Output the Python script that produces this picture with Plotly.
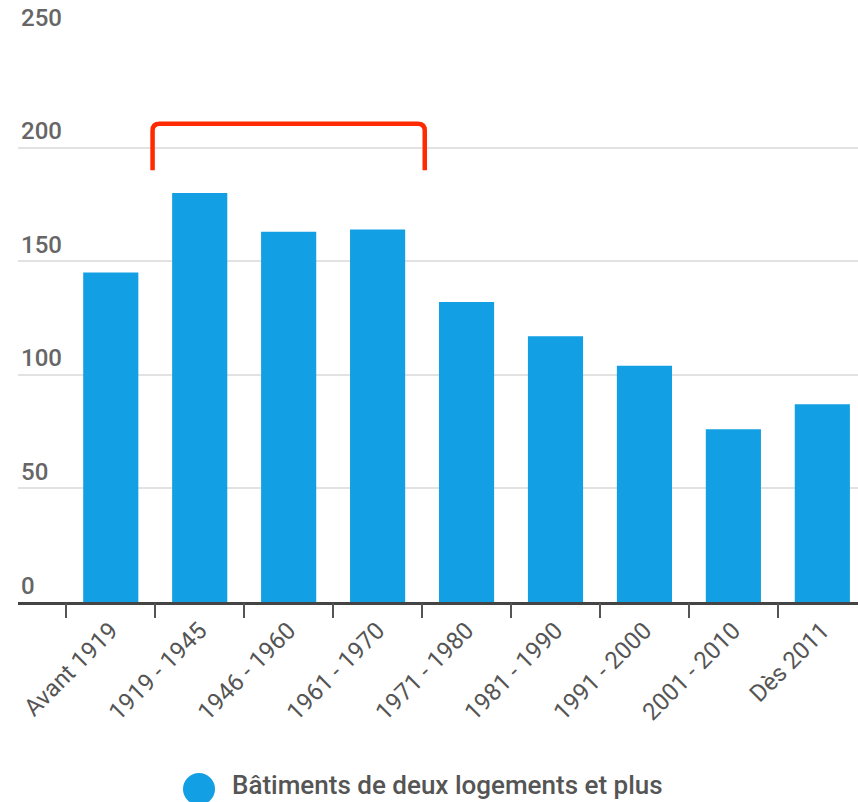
import plotly.graph_objects as go

# Nombre de bâtiments de deux logements et plus par période de construction
periodes = ["Avant 1919", "1919 - 1945", "1946 - 1960", "1961 - 1970", "1971 - 1980",
            "1981 - 1990", "1991 - 2000", "2001 - 2010", "Dès 2011"]
batiments = [145, 180, 163, 164, 132, 117, 104, 76, 87]
serie_nom = "Bâtiments de deux logements et plus"
y_ticks = [0, 50, 100, 150, 200, 250]

# Accolade rouge au-dessus des périodes 1919 - 1970
accolade_debut, accolade_fin = 1, 3
accolade_bas, accolade_haut = 190, 210.5

BLEU = "#139fe3"
ROUGE = "#ff2a00"
FONT = "Roboto"

positions = list(range(len(periodes)))

fig = go.Figure()
fig.add_trace(go.Bar(
    x=positions, y=batiments, name=serie_nom,
    marker=dict(color=BLEU, line=dict(width=0)),
    width=0.62, showlegend=False,
))

x_range = [-1.043, 8.401]

fig.update_layout(
    width=858, height=802,
    margin=dict(l=18, r=0, t=34, b=200, pad=0),
    paper_bgcolor="white", plot_bgcolor="white",
    showlegend=False,
    xaxis=dict(
        range=x_range,
        tickmode="array", tickvals=positions, ticktext=periodes,
        tickangle=-45, ticks="",
        tickfont=dict(family=FONT, size=24, color="#555555"),
        showgrid=False, zeroline=False,
        showline=True, linecolor="#444444", linewidth=3,
        ticklabelstandoff=2,
    ),
    xaxis2=dict(
        overlaying="x", anchor="y", side="bottom", matches="x",
        range=x_range,
        tickmode="array", tickvals=[p - 0.5 for p in positions],
        ticks="outside", ticklen=15, tickwidth=2, tickcolor="#555555",
        showticklabels=False, showgrid=False, zeroline=False, showline=False,
    ),
    yaxis=dict(
        range=[0, 250],
        tickmode="array", tickvals=y_ticks,
        ticklabelposition="inside top", ticklabeloverflow="allow",
        tickfont=dict(family=FONT, size=24, color="#666666", weight=500),
        ticks="", showgrid=True, gridcolor="#e2e2e2", gridwidth=2,
        zeroline=False, showline=False,
    ),
)

# Trace fantôme pour activer l'axe des graduations de séparation
fig.add_trace(go.Scatter(x=[None], y=[None], xaxis="x2", yaxis="y",
                         showlegend=False, hoverinfo="skip"))

# Accolade aux coins arrondis
x0 = accolade_debut - 0.53
x1 = accolade_fin + 0.53
rx, ry = 0.08, 3.0
path = (f"M {x0},{accolade_bas} L {x0},{accolade_haut - ry} "
        f"Q {x0},{accolade_haut} {x0 + rx},{accolade_haut} "
        f"L {x1 - rx},{accolade_haut} "
        f"Q {x1},{accolade_haut} {x1},{accolade_haut - ry} "
        f"L {x1},{accolade_bas}")
fig.add_shape(type="path", path=path, xref="x", yref="y",
              line=dict(color=ROUGE, width=4.5))

# Légende : pastille ronde + libellé
fig.add_shape(type="circle", xref="paper", yref="paper",
              xsizemode="pixel", ysizemode="pixel",
              xanchor=(199 - 18) / 840, yanchor=-(789 - 602) / 568,
              x0=-16, x1=16, y0=-16, y1=16,
              fillcolor=BLEU, line=dict(width=0))
fig.add_annotation(text=serie_nom, xref="paper", yref="paper",
                   x=(231 - 18) / 840, y=-(801 - 602) / 568,
                   xanchor="left", yanchor="bottom", showarrow=False,
                   borderpad=0,
                   font=dict(family=FONT, size=26, color="#555555", weight=500))

fig.write_html("out.html")
